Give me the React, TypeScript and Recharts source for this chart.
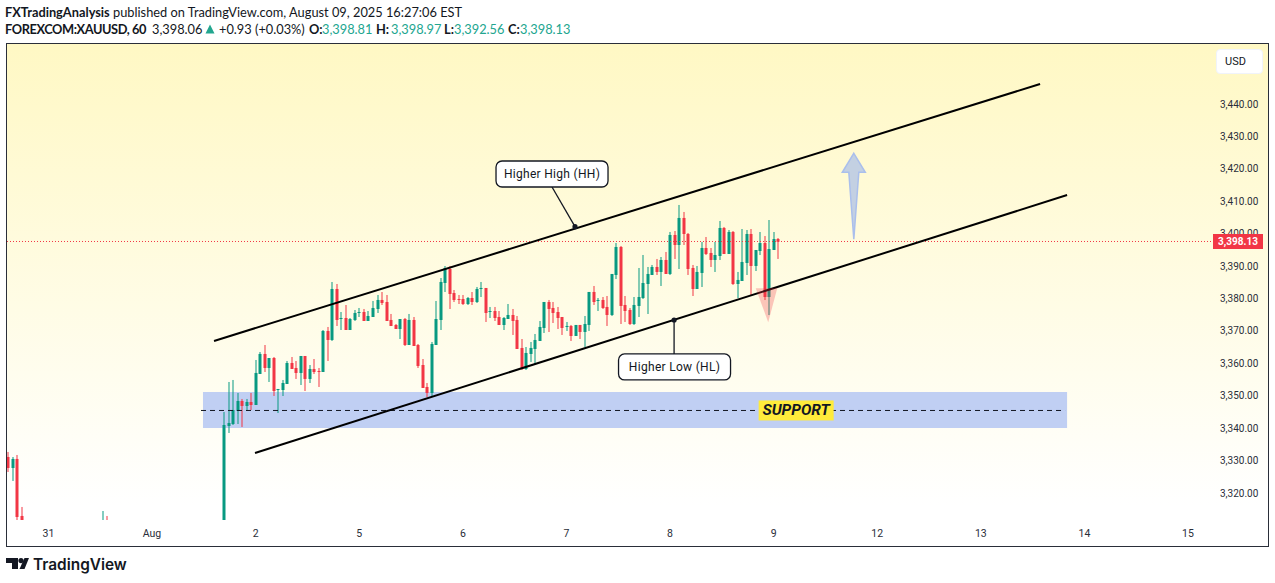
import { Bar, ComposedChart, ReferenceArea, ReferenceDot, ReferenceLine, XAxis, YAxis } from "recharts";

// bar slots on the hourly time scale (the rest of the week sits below the visible range)
const barSlots = [
  -9, -8, -7, -6, 12, 13,
  39, 40, 41, 42, 43, 44, 45, 46, 47, 48, 49, 50, 51, 52, 53, 54, 55, 56, 57, 58, 59, 60, 61, 62, 63, 64,
  65, 66, 67, 68, 69, 70, 71, 72, 73, 74, 75, 76, 77, 78, 79, 80, 81, 82, 83, 84, 85, 86, 87, 88, 89, 90,
  91, 92, 93, 94, 95, 96, 97, 98, 99, 100, 101, 102, 103, 104, 105, 106, 107, 108, 109, 110, 111, 112, 113,
  114, 115, 116, 117, 118, 119, 120, 121, 122, 123, 124, 125, 126, 127, 128, 129, 130, 131, 132, 133, 134,
  135, 136, 137, 138, 139, 140, 141, 142, 143, 144, 145, 146, 147, 148, 149, 150, 151, 152, 153, 154, 155,
  156, 157, 158, 159, 160, 161, 162,
];

const opens = [
  3331.1, 3327.71, 3330.49, 3312.9, 3305, 3309,
  3300, 3340.67, 3341.28, 3345.29, 3348.38, 3346.84, 3348.07, 3347.14, 3356.71, 3362.88, 3358.56, 3361.64, 3351.77, 3351.77, 3353.62, 3360.1, 3358.56, 3357.02, 3362.26, 3355.17, 3358.25, 3357.63, 3357.32, 3369.97, 3367.2, 3382.93,
  3373.67, 3373.98, 3370.28, 3373.37, 3375.53, 3375.83, 3373.06, 3374.29, 3376.76, 3379.54, 3378.92, 3373.37, 3371.82, 3370.59, 3373.67, 3365.65, 3373.37, 3365.65, 3359.48, 3352.7, 3350.85, 3365.65, 3373.37, 3384.78, 3389.1, 3381.69,
  3379.84, 3379.84, 3378.3, 3380.15, 3378.92, 3382.93, 3383.24, 3375.83, 3376.14, 3374.29, 3371.82, 3373.67, 3374.91, 3373.37, 3364.73, 3358.25, 3362.88, 3364.42, 3366.89, 3370.9, 3378.92, 3377.07, 3375.83,
  3374.29, 3371.21, 3371.52, 3368.43, 3371.83, 3369.67, 3371.83, 3382.01, 3379.23, 3379.54, 3377.38, 3374.91, 3387.25, 3395.89, 3378.0, 3376.45, 3372.13, 3377.69, 3380.15, 3384.47, 3387.25,
  3389.72, 3388.18, 3391.88, 3387.56, 3399.59, 3396.5, 3404.84, 3399.9, 3389.41, 3382.93, 3387.87, 3395.58, 3394.04, 3391.88, 3393.11, 3401.75, 3393.73, 3400.52, 3384.47, 3385.4, 3390.95,
  3399.9, 3390.03, 3394.65, 3397.11, 3380.46, 3394.96, 3398.35,
];
const highs = [
  3332.65, 3331.1, 3331.72, 3315.68, 3314.44, 3312.9,
  3344.98, 3354.24, 3354.86, 3350.85, 3349.0, 3349.0, 3350.85, 3361.03, 3363.49, 3365.65, 3361.64, 3361.95, 3352.08, 3354.86, 3360.72, 3361.95, 3360.72, 3362.26, 3362.26, 3359.48, 3361.33, 3358.56, 3370.28, 3371.21, 3385.09, 3384.47,
  3375.83, 3377.99, 3373.98, 3376.45, 3377.07, 3376.76, 3376.14, 3379.23, 3381.08, 3382.0, 3381.08, 3375.22, 3372.13, 3373.67, 3373.98, 3375.22, 3374.29, 3365.96, 3361.33, 3353.93, 3366.58, 3379.23, 3386.32, 3390.02, 3390.02, 3382.62,
  3381.08, 3381.08, 3380.46, 3382.0, 3383.55, 3385.09, 3383.24, 3377.38, 3377.38, 3376.14, 3374.29, 3378.3, 3376.76, 3374.6, 3367.5, 3365.03, 3366.58, 3369.05, 3373.06, 3378.92, 3379.54, 3378.92, 3377.38,
  3374.29, 3372.75, 3371.83, 3371.83, 3371.83, 3374.6, 3382.01, 3383.86, 3380.15, 3380.46, 3380.77, 3387.56, 3397.12, 3396.2, 3380.77, 3377.07, 3380.46, 3389.41, 3393.42, 3389.72, 3390.34,
  3392.19, 3392.8, 3394.35, 3400.52, 3400.82, 3408.85, 3406.69, 3400.21, 3390.34, 3390.03, 3397.43, 3398.97, 3395.58, 3397.43, 3403.91, 3402.06, 3401.13, 3400.82, 3388.18, 3401.44, 3401.13,
  3401.44, 3394.96, 3400.51, 3399.27, 3404.21, 3400.51, 3398.66,
];
const lows = [
  3326.47, 3323.7, 3305, 3300, 3302, 3303,
  3296, 3338.51, 3340.97, 3341.28, 3340.36, 3345.29, 3345.6, 3347.14, 3356.71, 3357.32, 3354.24, 3349.92, 3344.68, 3349.92, 3353.62, 3358.25, 3355.17, 3353.31, 3351.46, 3353.93, 3356.71, 3352.7, 3357.32, 3360.72, 3366.89, 3371.51,
  3370.28, 3370.28, 3370.28, 3373.06, 3374.29, 3373.06, 3373.06, 3374.29, 3375.53, 3377.99, 3373.06, 3371.51, 3370.59, 3367.5, 3365.34, 3365.65, 3365.34, 3358.56, 3352.39, 3349.61, 3349.61, 3365.65, 3370.28, 3382.0, 3376.76, 3378.92,
  3378.3, 3377.99, 3377.99, 3377.99, 3378.61, 3380.46, 3372.75, 3373.98, 3373.06, 3371.82, 3370.28, 3373.67, 3368.74, 3364.42, 3357.94, 3357.94, 3360.41, 3359.79, 3366.89, 3369.36, 3369.66, 3372.44, 3370.59,
  3368.74, 3369.98, 3366.89, 3368.43, 3367.51, 3365.04, 3369.98, 3378.0, 3376.15, 3376.76, 3371.52, 3374.6, 3386.02, 3372.13, 3372.75, 3371.83, 3371.83, 3374.29, 3379.85, 3375.22, 3387.25,
  3387.25, 3383.86, 3387.56, 3387.25, 3392.19, 3389.1, 3396.5, 3387.25, 3380.77, 3382.93, 3383.55, 3393.42, 3389.72, 3388.18, 3391.88, 3393.73, 3393.73, 3384.17, 3380.15, 3385.4, 3387.25,
  3380.77, 3388.48, 3393.41, 3379.53, 3374.9, 3394.96, 3392.2,
];
const closes = [
  3327.71, 3330.49, 3312.59, 3305, 3309, 3305,
  3340.97, 3341.59, 3345.6, 3348.38, 3346.84, 3348.07, 3347.14, 3357.02, 3362.88, 3358.56, 3361.64, 3351.46, 3352.08, 3353.93, 3360.1, 3358.25, 3357.02, 3362.26, 3355.17, 3358.25, 3357.32, 3357.32, 3369.97, 3367.2, 3382.93, 3373.37,
  3373.98, 3370.28, 3373.67, 3375.53, 3375.83, 3373.06, 3374.6, 3377.07, 3379.54, 3378.61, 3373.06, 3371.51, 3370.59, 3373.67, 3365.65, 3373.37, 3365.34, 3359.18, 3352.39, 3350.85, 3365.96, 3373.67, 3385.09, 3389.41, 3381.39, 3379.54,
  3379.54, 3378.3, 3380.15, 3378.92, 3382.93, 3383.24, 3375.53, 3376.14, 3373.98, 3371.82, 3373.98, 3374.91, 3373.06, 3364.42, 3358.25, 3363.19, 3364.73, 3367.2, 3371.21, 3378.92, 3376.76, 3375.53, 3373.98,
  3370.9, 3371.52, 3368.43, 3371.83, 3369.67, 3372.13, 3382.01, 3378.92, 3379.54, 3377.07, 3374.91, 3387.56, 3395.89, 3377.69, 3376.15, 3372.13, 3378.0, 3380.46, 3384.78, 3387.56, 3389.72,
  3388.18, 3391.88, 3387.56, 3399.59, 3396.5, 3404.84, 3399.9, 3389.1, 3382.93, 3388.18, 3395.58, 3393.73, 3391.88, 3393.42, 3401.75, 3393.73, 3400.52, 3384.47, 3385.71, 3391.26, 3399.9,
  3390.03, 3394.96, 3397.11, 3380.46, 3395.26, 3398.35, 3397.5,
];

const dayTicks = [0, 23, 46, 69, 92, 115, 138, 161, 184, 207, 230, 253];
const dayLabels = ["31", "Aug", "2", "5", "6", "7", "8", "9", "12", "13", "14", "15"];
const priceTicks = [3320, 3330, 3340, 3350, 3360, 3370, 3380, 3390, 3400, 3410, 3420, 3430, 3440];

const candles = barSlots.map((slot, i) => ({
  slot,
  open: opens[i],
  high: highs[i],
  low: lows[i],
  close: closes[i],
  range: [lows[i], highs[i]],
}));

const GREEN = "#089981";
const RED = "#F23645";

function Candle(props: any) {
  const { x, y, width, height, payload } = props;
  const { open, high, low, close } = payload;
  const color = close >= open ? GREEN : RED;
  const toY = (p: number) => y + ((high - p) / (high - low)) * height;
  const cx = Math.round(x + width / 2);
  const top = toY(Math.max(open, close));
  const bottom = toY(Math.min(open, close));
  return (
    <g>
      <rect x={cx - 0.5} y={y} width={1} height={height} fill={color} />
      <rect x={cx - 1.5} y={top} width={3} height={Math.max(bottom - top, 1)} fill={color} />
    </g>
  );
}

const Callout = ({ cx, cy, label }: any) => (
  <g>
    <rect x={cx - 56} y={cy - 13} width={112} height={26} rx={6} fill="#fff" stroke="#131722" strokeWidth={1.3} />
    <text x={cx} y={cy + 4} textAnchor="middle" fontFamily="Roboto" fontSize={12} letterSpacing={0.3} fill="#131722">
      {label}
    </text>
  </g>
);

const SupportTag = ({ cx, cy }: any) => (
  <g>
    <rect x={cx - 37.5} y={cy - 10} width={75} height={20} fill="#FFEB3B" />
    <text x={cx} y={cy + 5} textAnchor="middle" fontFamily="Roboto" fontStyle="italic" fontWeight={700} fontSize={15.5} fill="#131722">
      SUPPORT
    </text>
  </g>
);

const UpArrow = ({ cx, cy }: any) => (
  <polygon
    points={`${cx},${cy} ${cx + 11.5},${cy + 19} ${cx + 5},${cy + 19} ${cx},${cy + 86} ${cx - 5},${cy + 19} ${cx - 11.5},${cy + 19}`}
    fill="#c3d0e2"
    stroke="#aabfec"
    strokeWidth={1.5}
  />
);

const DownWedge = ({ cx, cy }: any) => (
  <polygon points={`${cx - 12.5},${cy} ${cx + 9},${cy} ${cx},${cy + 34}`} fill="#F23645" fillOpacity={0.28} />
);

const Dot = ({ cx, cy }: any) => <circle cx={cx} cy={cy} r={2.6} fill="#131722" />;

const greenText = { color: "#22a68f" };

function Header() {
  const line2: [number, string, any?][] = [
    [5, "FOREXCOM:XAUUSD, 60", { fontWeight: 700, letterSpacing: -0.42 }],
    [152, "3,398.06"],
    [219, "+0.93 (+0.03%)"],
    [309, "O:", { fontWeight: 700 }],
    [322, "3,398.81", greenText],
    [376, "H:", { fontWeight: 700 }],
    [391, "3,398.97", greenText],
    [444, "L:", { fontWeight: 700 }],
    [454, "3,392.56", greenText],
    [508, "C:", { fontWeight: 700 }],
    [520, "3,398.13", greenText],
  ];
  const base: any = { position: "absolute", whiteSpace: "nowrap", fontFamily: "Lato", fontSize: 12.8, color: "#131722" };
  return (
    <>
      <div style={{ ...base, left: 5, top: 4 }}>
        <b>FXTradingAnalysis</b> published on TradingView.com, August 09, 2025 16:27:06 EST
      </div>
      {line2.map(([left, text, style]) => (
        <div key={text + left} style={{ ...base, left, top: 21, ...style }}>
          {text}
        </div>
      ))}
      <svg style={{ position: "absolute", left: 205, top: 24 }} width={10} height={10}>
        <polygon points="5,0.5 9.5,9.5 0.5,9.5" fill="#22a68f" />
      </svg>
    </>
  );
}

export default function App() {
  return (
    <div style={{ position: "absolute", left: 0, top: 0, width: 1275, height: 583, background: "#fff", overflow: "hidden" }}>
      <Header />
      <div
        style={{
          position: "absolute",
          left: 6,
          top: 43,
          width: 1261,
          height: 502,
          border: "1.5px solid #2a2e39",
          background: "linear-gradient(#fff8c4, #ffffff 92%)",
        }}
      />
      <div style={{ position: "absolute", left: 0, top: 0 }}>
        <ComposedChart
          width={1275}
          height={583}
          data={candles}
          margin={{ left: 7, top: 44, right: 7, bottom: 37 }}
        >
          <XAxis
            dataKey="slot"
            type="number"
            domain={[-9.2, 258.1]}
            allowDataOverflow
            ticks={dayTicks}
            interval={0}
            tickFormatter={(v) => dayLabels[dayTicks.indexOf(v)]}
            height={26}
            tickSize={0}
            tickMargin={10}
            axisLine={false}
            tick={{ fontSize: 10.5, fontFamily: "Roboto", fill: "#2a2e39" }}
          />
          <YAxis
            orientation="right"
            type="number"
            domain={[3311.66, 3458.51]}
            allowDataOverflow
            ticks={priceTicks}
            interval={0}
            width={57}
            tickSize={0}
            tickMargin={9}
            axisLine={false}
            tickFormatter={(v) => v.toLocaleString("en-US", { minimumFractionDigits: 2 })}
            tick={{ fontSize: 10, fontFamily: "Roboto", fill: "#2a2e39" }}
          />
          <ReferenceArea x1={34.31} x2={226.15} y1={3340.05} y2={3351.15} fill="#c0cff3" fillOpacity={1} stroke="none" />
          <ReferenceDot x={159.8} y={3383.14} shape={DownWedge} ifOverflow="visible" />
          <ReferenceLine y={3397.58} stroke="#F23645" strokeWidth={1} strokeDasharray="1 2" />
          <Bar dataKey="range" barSize={3} shape={Candle} isAnimationActive={false} />
          <ReferenceLine segment={[{ x: 33.87, y: 3345.45 }, { x: 225.7, y: 3345.45 }]} stroke="#131722" strokeDasharray="5 4" />
          <ReferenceLine segment={[{ x: 36.76, y: 3366.89 }, { x: 220.15, y: 3446.17 }]} stroke="#000" strokeWidth={2} />
          <ReferenceLine segment={[{ x: 45.86, y: 3332.33 }, { x: 226.15, y: 3411.93 }]} stroke="#000" strokeWidth={2} />
          <ReferenceLine segment={[{ x: 116.9, y: 3402.15 }, { x: 111.8, y: 3414.4 }]} stroke="#131722" strokeWidth={1.3} />
          <ReferenceLine segment={[{ x: 138.9, y: 3373.36 }, { x: 138.9, y: 3362.87 }]} stroke="#131722" strokeWidth={1.3} />
          <ReferenceDot x={116.9} y={3402.15} shape={Dot} />
          <ReferenceDot x={138.9} y={3373.36} shape={Dot} />
          <ReferenceDot x={111.8} y={3418.4} shape={(p: any) => <Callout {...p} label="Higher High (HH)" />} />
          <ReferenceDot x={139} y={3358.87} shape={(p: any) => <Callout {...p} label="Higher Low (HL)" />} />
          <ReferenceDot x={166} y={3345.45} shape={SupportTag} />
          <ReferenceDot x={178.8} y={3424.79} shape={UpArrow} />
        </ComposedChart>
      </div>
      <div
        style={{
          position: "absolute",
          left: 1216,
          top: 49,
          width: 47,
          height: 25,
          background: "#fff",
          border: "1px solid #f0f3fa",
          borderRadius: 4,
          font: "11px Roboto",
          color: "#131722",
          lineHeight: "23px",
          paddingLeft: 8,
          boxSizing: "border-box",
        }}
      >
        USD
      </div>
      <div
        style={{
          position: "absolute",
          left: 1213,
          top: 234,
          width: 50,
          height: 15,
          background: "#F23645",
          color: "#fff",
          font: "700 10px Roboto",
          lineHeight: "15px",
          textAlign: "center",
        }}
      >
        3,398.13
      </div>
      <svg style={{ position: "absolute", left: 6, top: 558 }} width={24} height={12}>
        <path d="M0 0H12V11H6V5H0Z" fill="#131722" />
        <circle cx={15} cy={2.6} r={2.6} fill="#131722" />
        <path d="M18.5 0H23L18.5 11H13.5Z" fill="#131722" />
      </svg>
      <div style={{ position: "absolute", left: 33, top: 555, font: "600 15.4px Inter", color: "#131722" }}>TradingView</div>
    </div>
  );
}
